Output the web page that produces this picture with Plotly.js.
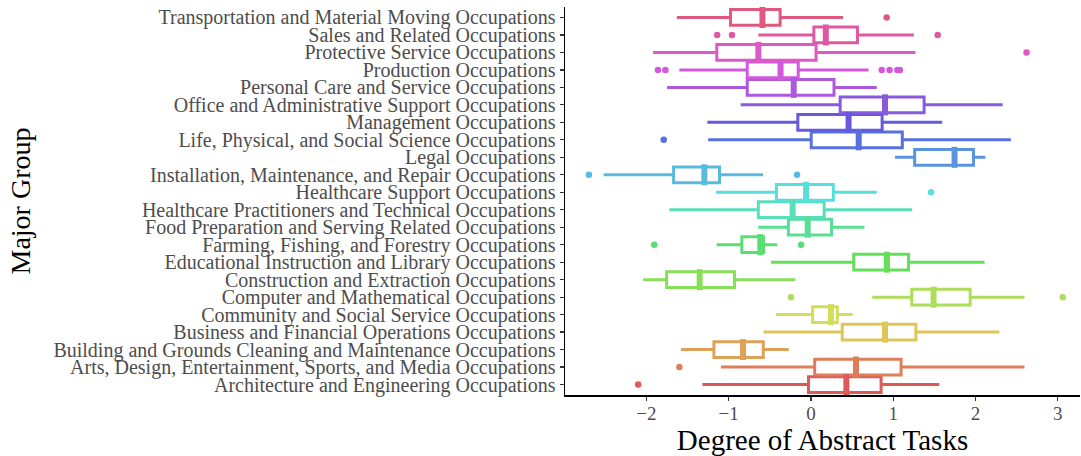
<!DOCTYPE html>
<html><head><meta charset="utf-8">
<script src="https://cdn.plot.ly/plotly-3.0.1.min.js"></script>
<style>html,body{margin:0;padding:0;background:#fff}#chart{width:1081px;height:456px}</style>
</head><body><div id="chart"></div>
<script>
const categories = [
  "Architecture and Engineering Occupations",
  "Arts, Design, Entertainment, Sports, and Media Occupations",
  "Building and Grounds Cleaning and Maintenance Occupations",
  "Business and Financial Operations Occupations",
  "Community and Social Service Occupations",
  "Computer and Mathematical Occupations",
  "Construction and Extraction Occupations",
  "Educational Instruction and Library Occupations",
  "Farming, Fishing, and Forestry Occupations",
  "Food Preparation and Serving Related Occupations",
  "Healthcare Practitioners and Technical Occupations",
  "Healthcare Support Occupations",
  "Installation, Maintenance, and Repair Occupations",
  "Legal Occupations",
  "Life, Physical, and Social Science Occupations",
  "Management Occupations",
  "Office and Administrative Support Occupations",
  "Personal Care and Service Occupations",
  "Production Occupations",
  "Protective Service Occupations",
  "Sales and Related Occupations",
  "Transportation and Material Moving Occupations"
];
const lowerWhisker = [-1.32, -1.094, -1.58, -0.576, -0.425, 0.745, -2.04, -0.486, -1.147, -0.64, -1.72, -1.155, -2.52, 1.02, -1.25, -1.26, -0.855, -1.75, -1.60, -1.92, -0.64, -1.63];
const q1 = [-0.03, 0.045, -1.18, 0.38, 0.02, 1.225, -1.755, 0.52, -0.84, -0.275, -0.64, -0.42, -1.67, 1.26, 0.003, -0.16, 0.355, -0.775, -0.775, -1.145, 0.035, -0.978];
const median = [0.43, 0.547, -0.826, 0.90, 0.243, 1.49, -1.353, 0.923, -0.616, -0.04, -0.223, -0.06, -1.296, 1.745, 0.58, 0.457, 0.90, -0.21, -0.37, -0.64, 0.18, -0.59];
const q3 = [0.852, 1.095, -0.58, 1.275, 0.32, 1.935, -0.93, 1.185, -0.577, 0.25, 0.16, 0.272, -1.112, 1.975, 1.11, 0.865, 1.375, 0.28, -0.155, 0.062, 0.565, -0.375];
const upperWhisker = [1.56, 2.595, -0.27, 2.29, 0.506, 2.595, -0.19, 2.11, -0.41, 0.65, 1.23, 0.80, -0.583, 2.12, 2.43, 1.595, 2.33, 0.80, 0.70, 1.27, 1.25, 0.39];
const outliers = [
  [-2.10], [-1.60], [], [], [], [-0.243, 3.06], [], [], [-1.905, -0.12], [], [], [1.46],
  [-2.70, -0.17], [], [-1.79], [], [], [], [-1.86, -1.77, 0.86, 0.955, 1.05, 1.08], [2.62],
  [-1.14, -0.96, 1.54], [0.92]
];
const xTicks = [-2, -1, 0, 1, 2, 3];

function hsv(h, s, v) {
  const c = v * s, hp = h / 60, x = c * (1 - Math.abs(hp % 2 - 1)), m = v - c;
  let r = 0, g = 0, b = 0;
  if (hp < 1) { r = c; g = x; } else if (hp < 2) { r = x; g = c; }
  else if (hp < 3) { g = c; b = x; } else if (hp < 4) { g = x; b = c; }
  else if (hp < 5) { r = x; b = c; } else { r = c; b = x; }
  return 'rgb(' + [r, g, b].map(t => Math.round(255 * (t + m))).join(',') + ')';
}
const n = categories.length;
const colors = categories.map((_, i) => hsv(360 * i / n, 0.6, 0.87));

const FONT = 'Liberation Serif, Times New Roman, serif';
const traces = [];
categories.forEach((cat, i) => {
  traces.push({
    type: 'box', orientation: 'h',
    y: [cat], q1: [q1[i]], median: [median[i]], q3: [q3[i]],
    lowerfence: [lowerWhisker[i]], upperfence: [upperWhisker[i]],
    width: 0.9, whiskerwidth: 0, boxpoints: false,
    line: {color: colors[i], width: 3}, fillcolor: 'white',
    hoverinfo: 'skip', showlegend: false
  });
});
traces.push({
  type: 'scatter', mode: 'markers', x: median, y: categories,
  marker: {symbol: 'line-ns', size: 15, color: colors, line: {color: colors, width: 6}},
  hoverinfo: 'skip', showlegend: false
});
const ox = [], oy = [], oc = [];
outliers.forEach((arr, i) => arr.forEach(v => { ox.push(v); oy.push(categories[i]); oc.push(colors[i]); }));
traces.push({
  type: 'scatter', mode: 'markers', x: ox, y: oy,
  marker: {symbol: 'circle', size: 6.5, color: oc},
  hoverinfo: 'skip', showlegend: false
});

const layout = {
  width: 1081, height: 456,
  margin: {l: 565, r: 1, t: 7, b: 61},
  paper_bgcolor: 'white', plot_bgcolor: 'white',
  boxmode: 'overlay', showlegend: false,
  font: {family: FONT, color: '#4D4D4D'},
  xaxis: {
    range: [-2.99, 3.27], tickmode: 'array', tickvals: xTicks,
    ticktext: xTicks.map(v => v < 0 ? '\u2212' + Math.abs(v) : String(v)),
    showgrid: false, zeroline: false, showline: true, linecolor: '#000', linewidth: 1.5,
    ticks: 'outside', ticklen: 4, tickwidth: 1.2, tickcolor: '#333',
    ticklabelstandoff: -3,
    tickfont: {family: FONT, size: 19, color: '#4D4D4D'},
    title: {text: 'Degree of Abstract Tasks', font: {family: FONT, size: 29, color: '#000'}, standoff: 7},
    automargin: false
  },
  yaxis: {
    type: 'category', categoryorder: 'array', categoryarray: categories,
    tickmode: 'array', tickvals: categories, ticktext: categories,
    range: [-0.6, 21.6],
    showgrid: false, zeroline: false, showline: true, linecolor: '#000', linewidth: 1.5,
    ticks: 'outside', ticklen: 4, tickwidth: 1.2, tickcolor: '#333',
    tickfont: {family: FONT, size: 20, color: '#4D4D4D'},
    title: {text: 'Major Group', font: {family: FONT, size: 28, color: '#000'}, standoff: 14},
    automargin: false
  }
};
Plotly.newPlot('chart', traces, layout, {displayModeBar: false, staticPlot: true});
</script></body></html>
